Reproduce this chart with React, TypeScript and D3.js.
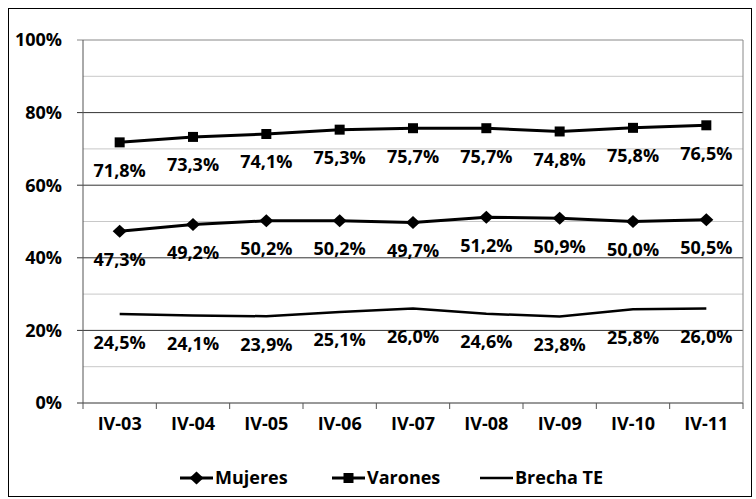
import React from 'react';
import { scaleBand, scaleLinear, line, symbol, symbolSquare } from 'd3';

const periodos = ['IV-03', 'IV-04', 'IV-05', 'IV-06', 'IV-07', 'IV-08', 'IV-09', 'IV-10', 'IV-11'];
const mujeres = [47.3, 49.2, 50.2, 50.2, 49.7, 51.2, 50.9, 50.0, 50.5];
const varones = [71.8, 73.3, 74.1, 75.3, 75.7, 75.7, 74.8, 75.8, 76.5];
const brecha = [24.5, 24.1, 23.9, 25.1, 26.0, 24.6, 23.8, 25.8, 26.0];
const ticksY = [0, 20, 40, 60, 80, 100];
const ticksMenores = [10, 30, 50, 70, 90];

const FONT = '"Open Sans", "Noto Sans", sans-serif';

const margin = { top: 40, right: 13, bottom: 96, left: 83 };
const W = 756, H = 499;
const width = W - margin.left - margin.right;
const height = H - margin.top - margin.bottom;

const fmt = (v: number) => v.toFixed(1).replace('.', ',') + '%';
const rombo = 'M0,-6.5L7,0L0,6.5L-7,0Z';

export default function App() {
  const x = scaleBand().domain(periodos).range([0, width]);
  const y = scaleLinear().domain([0, 100]).range([height, 0]);
  const cx = (i: number) => (x(periodos[i]) ?? 0) + x.bandwidth() / 2;
  const ln = line<number>().x((_, i) => cx(i)).y((d) => y(d));

  const series = [
    { name: 'Mujeres', data: mujeres, marker: rombo, sw: 3 },
    { name: 'Varones', data: varones, marker: symbol(symbolSquare, 100)() ?? '', sw: 3 },
    { name: 'Brecha TE', data: brecha, marker: '', sw: 2.5 },
  ];

  const legendX = [180, 332, 480];

  return (
    <svg width={W} height={H} style={{ position: 'absolute', left: 0, top: 0 }} fontFamily={FONT}>
      <rect x={8.5} y={8.5} width={743} height={488} fill="white" stroke="black" strokeWidth={1} />
      <g transform={`translate(${margin.left}, ${margin.top})`}>
        {ticksMenores.map((t) => (
          <line key={t} x1={0} x2={width} y1={y(t)} y2={y(t)} stroke="#c8c8c8" strokeWidth={1} />
        ))}
        {ticksY.map((t) => (
          <g key={t}>
            <line x1={-6} x2={width} y1={y(t)} y2={y(t)} stroke={t === 100 ? '#888' : '#333'} strokeWidth={1} />
            <text x={-21} y={y(t)} dy="0.36em" textAnchor="end" fontSize={18} fontWeight="bold">{t}%</text>
          </g>
        ))}
        <line x1={width} x2={width} y1={0} y2={height} stroke="#888" />
        <line x1={0} x2={0} y1={0} y2={height} stroke="#555" />
        {periodos.map((p, i) => (
          <g key={p}>
            <line x1={x(p) ?? 0} x2={x(p) ?? 0} y1={height} y2={height + 6} stroke="#555" />
            <text x={cx(i)} y={height + 21} dy="0.36em" textAnchor="middle" fontSize={18} fontWeight="bold">{p}</text>
          </g>
        ))}
        <line x1={width} x2={width} y1={height} y2={height + 6} stroke="#555" />
        {series.map((s) => (
          <g key={s.name}>
            <path d={ln(s.data) ?? ''} fill="none" stroke="black" strokeWidth={s.sw} />
            {s.marker && s.data.map((d, i) => (
              <path key={i} d={s.marker} transform={`translate(${cx(i)}, ${y(d)})`} fill="black" />
            ))}
            {s.data.map((d, i) => (
              <text key={'l' + i} x={cx(i)} y={y(d) + 28} dy="0.36em" textAnchor="middle" fontSize={18} fontWeight="bold">{fmt(d)}</text>
            ))}
          </g>
        ))}
      </g>
      {series.map((s, i) => (
        <g key={s.name} transform={`translate(${legendX[i]}, 478)`}>
          <line x1={0} x2={33} y1={0} y2={0} stroke="black" strokeWidth={s.sw} />
          {s.marker && <path d={s.marker} transform="translate(16.5, 0)" fill="black" />}
          <text x={35} y={0} dy="0.36em" fontSize={18} fontWeight="bold">{s.name}</text>
        </g>
      ))}
    </svg>
  );
}
